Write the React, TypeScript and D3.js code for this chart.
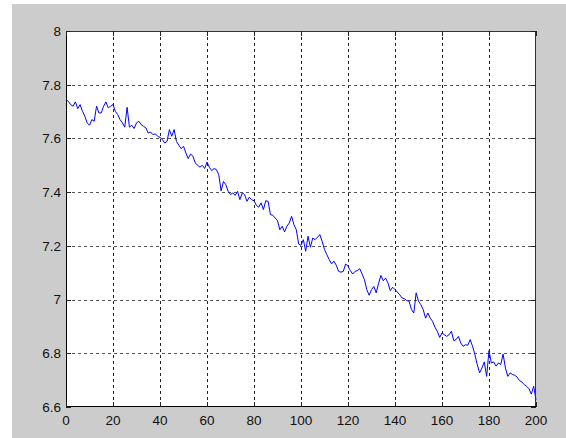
import * as d3 from "d3";

// sample values, one per x step 0..200
const values: number[] = [
  7.745, 7.738, 7.726, 7.72, 7.736, 7.711, 7.726, 7.701, 7.683, 7.658,
  7.649, 7.67, 7.664, 7.72, 7.695, 7.695, 7.72, 7.736, 7.714, 7.72,
  7.726, 7.701, 7.689, 7.67, 7.658, 7.642, 7.716, 7.642, 7.649, 7.637,
  7.658, 7.664, 7.651, 7.645, 7.639, 7.62, 7.624, 7.614, 7.617, 7.608,
  7.604, 7.596, 7.583, 7.589, 7.633, 7.608, 7.633, 7.589, 7.575, 7.562,
  7.571, 7.546, 7.525, 7.542, 7.534, 7.509, 7.5, 7.493, 7.5, 7.488,
  7.512, 7.493, 7.48, 7.488, 7.484, 7.465, 7.405, 7.44, 7.428, 7.403,
  7.391, 7.397, 7.388, 7.403, 7.372, 7.397, 7.391, 7.366, 7.381, 7.372,
  7.368, 7.351, 7.344, 7.36, 7.335, 7.368, 7.366, 7.316, 7.314, 7.304,
  7.294, 7.26, 7.273, 7.252, 7.273, 7.285, 7.31, 7.279, 7.26, 7.207,
  7.202, 7.223, 7.18, 7.236, 7.195, 7.229, 7.223, 7.232, 7.242, 7.217,
  7.186, 7.167, 7.149, 7.133, 7.143, 7.128, 7.105, 7.102, 7.105, 7.133,
  7.124, 7.108, 7.095, 7.105, 7.108, 7.115, 7.095, 7.074, 7.037, 7.016,
  7.037, 7.049, 7.025, 7.06, 7.09, 7.07, 7.08, 7.062, 7.033, 7.046,
  7.037, 7.028, 7.018, 7.006, 7.003, 6.996, 6.994, 6.963, 6.95, 7.025,
  6.994, 6.981, 6.963, 6.931, 6.95, 6.931, 6.919, 6.897, 6.882, 6.859,
  6.876, 6.869, 6.863, 6.869, 6.882, 6.847, 6.851, 6.863, 6.838, 6.826,
  6.832, 6.83, 6.851, 6.826, 6.795, 6.758, 6.727, 6.745, 6.768, 6.714,
  6.81, 6.764, 6.768, 6.752, 6.764, 6.758, 6.797, 6.745, 6.714, 6.727,
  6.721, 6.718, 6.711, 6.698, 6.693, 6.683, 6.677, 6.668, 6.648, 6.677,
  6.627,
];

const xTicks = [0, 20, 40, 60, 80, 100, 120, 140, 160, 180, 200];
const yTicks = [6.6, 6.8, 7, 7.2, 7.4, 7.6, 7.8, 8];

const W = 566;
const H = 438;
const left = 66;
const right = 536;
const top = 31;
const bottom = 407;

export default function App() {
  const x = d3.scaleLinear().domain([0, 200]).range([left, right]);
  const y = d3.scaleLinear().domain([6.6, 8]).range([bottom, top]);

  const line = d3
    .line<number>()
    .x((_, i) => x(i))
    .y((d) => y(d));

  const tickLen = 5;
  const font = "'Liberation Sans', Arial, sans-serif";

  return (
    <svg
      width={W}
      height={H}
      style={{ position: "absolute", left: 0, top: 0, display: "block" }}
    >
      <rect x={0} y={0} width={W} height={H} fill="#fff" />
      <rect x={12} y={4} width={W - 12} height={H - 4} fill="#cccccc" />
      <rect
        x={left}
        y={top}
        width={right - left}
        height={bottom - top}
        fill="#fff"
      />

      {/* grid */}
      {xTicks.slice(1, -1).map((t) => (
        <line
          key={"gx" + t}
          x1={Math.round(x(t)) + 0.5}
          x2={Math.round(x(t)) + 0.5}
          y1={top}
          y2={bottom}
          stroke="#222"
          strokeDasharray="3,3"
        />
      ))}
      {yTicks.slice(1, -1).map((t) => (
        <line
          key={"gy" + t}
          x1={left}
          x2={right}
          y1={Math.round(y(t)) + 0.5}
          y2={Math.round(y(t)) + 0.5}
          stroke="#555"
          strokeDasharray="3,3"
        />
      ))}

      {/* data */}
      <path d={line(values) ?? ""} fill="none" stroke="#0000ff" strokeWidth={1} />

      {/* box */}
      <rect
        x={left + 0.5}
        y={top + 0.5}
        width={right - left - 1}
        height={bottom - top - 1}
        fill="none"
        stroke="#333"
      />
      <line x1={left + 0.5} x2={left + 0.5} y1={top} y2={bottom} stroke="#000" />
      <line x1={left} x2={right} y1={bottom - 0.5} y2={bottom - 0.5} stroke="#000" />

      {/* ticks on all sides */}
      {xTicks.map((t) => {
        const px = Math.round(x(t)) + 0.5;
        return (
          <g key={"tx" + t}>
            <line x1={px} x2={px} y1={bottom} y2={bottom - tickLen} stroke="#222" />
            <line x1={px} x2={px} y1={top} y2={top + tickLen} stroke="#222" />
          </g>
        );
      })}
      {yTicks.map((t) => {
        const py = Math.round(y(t)) + 0.5;
        return (
          <g key={"ty" + t}>
            <line x1={left} x2={left + tickLen} y1={py} y2={py} stroke="#222" />
            <line x1={right} x2={right - tickLen} y1={py} y2={py} stroke="#222" />
          </g>
        );
      })}

      {/* tick labels */}
      {xTicks.map((t) => (
        <text
          key={"lx" + t}
          x={x(t)}
          y={425}
          textAnchor="middle"
          fontFamily={font}
          fontSize={13.5}
          fill="#111"
        >
          {t}
        </text>
      ))}
      {yTicks.map((t) => (
        <text
          key={"ly" + t}
          x={61}
          y={y(t) + 4.8}
          textAnchor="end"
          fontFamily={font}
          fontSize={13.5}
          fill="#111"
        >
          {t}
        </text>
      ))}
    </svg>
  );
}
